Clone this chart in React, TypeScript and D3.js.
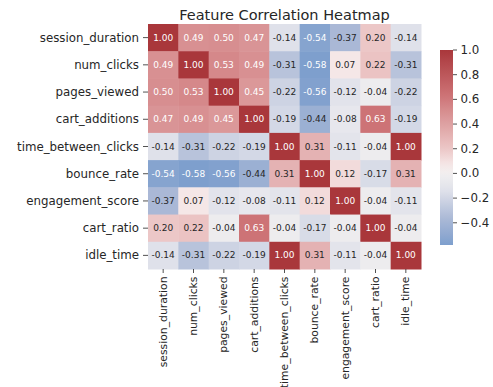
import React from "react";
import * as d3 from "d3";

const features = [
  "session_duration",
  "num_clicks",
  "pages_viewed",
  "cart_additions",
  "time_between_clicks",
  "bounce_rate",
  "engagement_score",
  "cart_ratio",
  "idle_time",
];

const sessionDuration = [1.0, 0.49, 0.5, 0.47, -0.14, -0.54, -0.37, 0.2, -0.14];
const numClicks = [0.49, 1.0, 0.53, 0.49, -0.31, -0.58, 0.07, 0.22, -0.31];
const pagesViewed = [0.5, 0.53, 1.0, 0.45, -0.22, -0.56, -0.12, -0.04, -0.22];
const cartAdditions = [0.47, 0.49, 0.45, 1.0, -0.19, -0.44, -0.08, 0.63, -0.19];
const timeBetweenClicks = [-0.14, -0.31, -0.22, -0.19, 1.0, 0.31, -0.11, -0.04, 1.0];
const bounceRate = [-0.54, -0.58, -0.56, -0.44, 0.31, 1.0, 0.12, -0.17, 0.31];
const engagementScore = [-0.37, 0.07, -0.12, -0.08, -0.11, 0.12, 1.0, -0.04, -0.11];
const cartRatio = [0.2, 0.22, -0.04, 0.63, -0.04, -0.17, -0.04, 1.0, -0.04];
const idleTime = [-0.14, -0.31, -0.22, -0.19, 1.0, 0.31, -0.11, -0.04, 1.0];

const matrix = [
  sessionDuration,
  numClicks,
  pagesViewed,
  cartAdditions,
  timeBetweenClicks,
  bounceRate,
  engagementScore,
  cartRatio,
  idleTime,
];

const colorbarTicks = [1.0, 0.8, 0.6, 0.4, 0.2, 0.0, -0.2, -0.4];

// diverging blue-white-red palette (seaborn "vlag"-like), centred at 0
const vlag = d3
  .scaleLinear<string>()
  .domain([0, 0.21, 0.315, 0.43, 0.5, 0.535, 0.6, 0.75, 0.815, 1])
  .range([
    "#2369bd",
    "#7e9fcd",
    "#aab8d6",
    "#dfe1ea",
    "#f2f0f0",
    "#f5e7e7",
    "#ecc7c7",
    "#d78e90",
    "#cd7376",
    "#a9373b",
  ])
  .interpolate(d3.interpolateRgb)
  .clamp(true);

const colorOf = (v: number) => vlag((v + 1) / 2);

function luminance(c: string) {
  const rgb = d3.rgb(c);
  const f = (x: number) => {
    const s = x / 255;
    return s <= 0.03928 ? s / 12.92 : Math.pow((s + 0.055) / 1.055, 2.4);
  };
  return 0.2126 * f(rgb.r) + 0.7152 * f(rgb.g) + 0.0722 * f(rgb.b);
}

const W = 493;
const H = 387;
const left = 148;
const right = 421;
const top = 24;
const bottom = 269;

const vmin = -0.58;
const vmax = 1.0;
const cbX = 440;
const cbW = 13;
const cbTop = 50;
const cbBottom = 245;

const fmt = (v: number) => (v < 0 ? "\u2212" : "") + Math.abs(v).toFixed(1);

export default function App() {
  const x = d3.scaleBand<string>().domain(features).range([left, right]);
  const y = d3.scaleBand<string>().domain(features).range([top, bottom]);
  const cbScale = d3.scaleLinear().domain([vmin, vmax]).range([cbBottom, cbTop]);
  const gradStops = d3.range(0, 41).map((i) => vmin + ((vmax - vmin) * i) / 40);

  const font = "DejaVu Sans, sans-serif";
  const textColor = "#262626";

  return (
    <svg
      width={W}
      height={H}
      style={{ position: "absolute", left: 0, top: 0, background: "#fff" }}
      fontFamily={font}
    >
      <defs>
        <linearGradient id="cbGrad" x1="0" y1="1" x2="0" y2="0">
          {gradStops.map((v, i) => (
            <stop key={i} offset={`${(i / 40) * 100}%`} stopColor={colorOf(v)} />
          ))}
        </linearGradient>
      </defs>

      <text
        x={(left + right) / 2}
        y={19.5}
        textAnchor="middle"
        fontSize={14.5}
        fill={textColor}
      >
        Feature Correlation Heatmap
      </text>

      {matrix.map((row, ri) =>
        row.map((v, ci) => {
          const fill = colorOf(v);
          const tc = luminance(fill) < 0.408 ? "#ffffff" : "#262626";
          return (
            <g key={`${ri}-${ci}`}>
              <rect
                x={x(features[ci])}
                y={y(features[ri])}
                width={x.bandwidth() + 0.5}
                height={y.bandwidth() + 0.5}
                fill={fill}
              />
              <text
                x={(x(features[ci]) as number) + x.bandwidth() / 2}
                y={(y(features[ri]) as number) + y.bandwidth() / 2}
                textAnchor="middle"
                dominantBaseline="central"
                fontSize={9}
                fill={tc}
              >
                {v.toFixed(2)}
              </text>
            </g>
          );
        })
      )}

      {features.map((f) => {
        const cy = (y(f) as number) + y.bandwidth() / 2;
        return (
          <g key={`y-${f}`}>
            <line x1={left - 5} x2={left} y1={cy} y2={cy} stroke={textColor} strokeWidth={0.8} />
            <text
              x={left - 9}
              y={cy}
              textAnchor="end"
              dominantBaseline="central"
              fontSize={11.8}
              fill={textColor}
            >
              {f}
            </text>
          </g>
        );
      })}

      {features.map((f) => {
        const cx = (x(f) as number) + x.bandwidth() / 2;
        return (
          <g key={`x-${f}`}>
            <line x1={cx} x2={cx} y1={bottom} y2={bottom + 4} stroke={textColor} strokeWidth={0.8} />
            <text
              transform={`translate(${cx},${bottom + 7.5}) rotate(-90)`}
              textAnchor="end"
              dominantBaseline="central"
              fontSize={10.8}
              fill={textColor}
            >
              {f}
            </text>
          </g>
        );
      })}

      <rect x={cbX} y={cbTop} width={cbW} height={cbBottom - cbTop} fill="url(#cbGrad)" />
      {colorbarTicks.map((t) => {
        const ty = cbScale(t);
        return (
          <g key={`cb-${t}`}>
            <line x1={cbX + cbW} x2={cbX + cbW + 4} y1={ty} y2={ty} stroke={textColor} strokeWidth={0.8} />
            <text
              x={cbX + cbW + 7.5}
              y={ty}
              dominantBaseline="central"
              fontSize={11.8}
              fill={textColor}
            >
              {fmt(t)}
            </text>
          </g>
        );
      })}
    </svg>
  );
}
